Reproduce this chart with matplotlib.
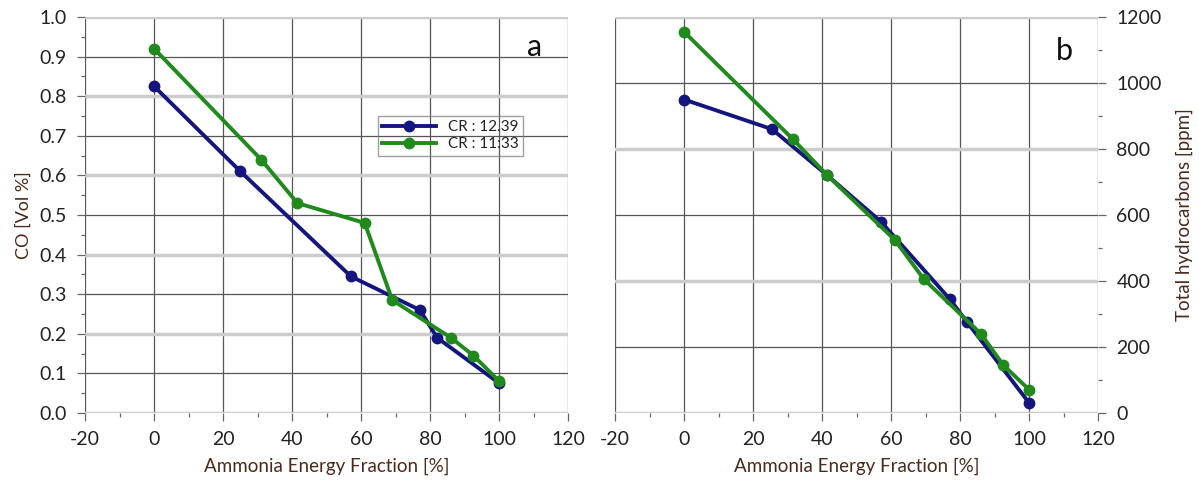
import matplotlib.pyplot as plt
import numpy as np

plt.rcParams['font.family'] = ['Lato', 'DejaVu Sans']
plt.rcParams['axes.unicode_minus'] = False

# CO emissions (panel a)
co_x_1239 = [0, 25, 57, 77, 82, 100]
co_y_1239 = [0.825, 0.61, 0.345, 0.26, 0.19, 0.075]
co_x_1133 = [0, 31, 41.5, 61, 69, 86, 92.5, 100]
co_y_1133 = [0.92, 0.64, 0.53, 0.48, 0.285, 0.19, 0.145, 0.08]

# Total hydrocarbons (panel b)
thc_x_1239 = [0, 25.5, 41.5, 57, 77, 82, 100]
thc_y_1239 = [950, 860, 720, 580, 345, 275, 30]
thc_x_1133 = [0, 31.5, 41.5, 61, 69.5, 86, 92.5, 100]
thc_y_1133 = [1155, 830, 720, 525, 405, 240, 145, 70]

labels = ['CR : 12.39', 'CR : 11:33']
colors = ['#15157f', '#208a1c']
xticks = np.arange(-20, 121, 20)
text_col = '#222222'
label_col = '#4a2a1a'


def style_axes(ax, ymax, ystep, right=False):
  ax.set_xlim(-20, 120)
  ax.set_ylim(0, ymax)
  ax.set_xticks(xticks)
  ax.set_xticks(np.arange(-20, 121, 10), minor=True)
  yt = np.arange(0, ymax + ystep / 2, ystep)
  ax.set_yticks(yt)
  ax.set_yticks(np.arange(0, ymax + ystep / 4, ystep / 2), minor=True)
  # vertical grid
  for x in xticks:
    ax.axvline(x, color='#555555', lw=0.9, zorder=0)
  # horizontal grid: alternating light/dark lines
  for i, y in enumerate(yt):
    if i % 2 == 0:
      ax.axhline(y, color='#cccccc', lw=2.5, zorder=0)
    else:
      ax.axhline(y, color='#555555', lw=0.9, zorder=0)
  for s in ax.spines.values():
    s.set_visible(False)
  ax.tick_params(axis='both', which='both', colors='#666666', labelcolor=text_col, labelsize=14,
                 direction='out')
  ax.tick_params(axis='both', which='major', length=6, width=0.9, pad=7)
  ax.tick_params(axis='both', which='minor', length=3, width=0.9)
  if right:
    ax.yaxis.tick_right()
    ax.yaxis.set_label_position('right')
  ax.set_xlabel('Ammonia Energy Fraction [%]', fontsize=13.5, color=label_col, labelpad=7)


fig = plt.figure(figsize=(11.99, 4.87), dpi=100)
ax1 = fig.add_axes([0.071, 0.152, 0.403, 0.813])
ax2 = fig.add_axes([0.513, 0.152, 0.403, 0.813])

style_axes(ax1, 1.0, 0.1)
ax1.set_yticklabels([f'{v:.1f}' for v in np.arange(0, 1.05, 0.1)])
style_axes(ax2, 1200, 200, right=True)

ax1.plot(co_x_1239, co_y_1239, color=colors[0], lw=2.8, marker='o', ms=7.5, label=labels[0])
ax1.plot(co_x_1133, co_y_1133, color=colors[1], lw=2.8, marker='o', ms=7.5, label=labels[1])
ax2.plot(thc_x_1239, thc_y_1239, color=colors[0], lw=2.8, marker='o', ms=7.5)
ax2.plot(thc_x_1133, thc_y_1133, color=colors[1], lw=2.8, marker='o', ms=7.5)

ax1.set_ylabel('CO [Vol %]', fontsize=13, color=label_col, labelpad=6)
ax2.set_ylabel('Total hydrocarbons [ppm]', fontsize=13.5, color=label_col, labelpad=10)

ax1.text(0.93, 0.925, 'a', transform=ax1.transAxes, fontsize=22, ha='center', va='center', color='#111111')
ax2.text(0.93, 0.915, 'b', transform=ax2.transAxes, fontsize=22, ha='center', va='center', color='#111111')

leg = ax1.legend(loc='upper left', bbox_to_anchor=(0.59, 0.77), fontsize=11,
                 edgecolor='#888888', fancybox=False, handlelength=3.5, labelcolor=text_col,
                 borderpad=0.3, labelspacing=0.2)
leg.get_frame().set_facecolor('none')
leg.get_frame().set_linewidth(1.0)

fig.savefig('out.png', dpi=100)
